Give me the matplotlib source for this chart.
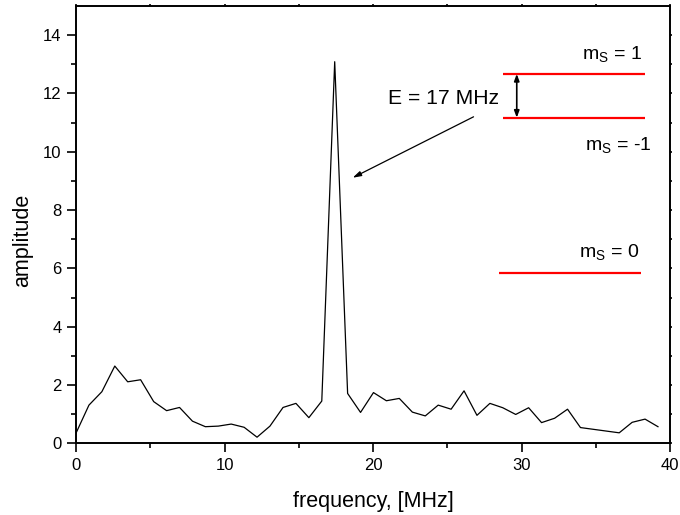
import matplotlib
matplotlib.use("Agg")
import matplotlib.pyplot as plt

plt.rcParams['font.family'] = ['Liberation Sans', 'DejaVu Sans']
plt.rcParams['mathtext.fontset'] = 'custom'
plt.rcParams['mathtext.rm'] = 'Liberation Sans'

# spectrum, frequency in MHz
freq = [0.00, 0.87, 1.74, 2.61, 3.48, 4.35, 5.23, 6.10, 6.97, 7.84,
        8.71, 9.58, 10.45, 11.32, 12.19, 13.06, 13.94, 14.81, 15.68, 16.55,
        17.42, 18.29, 19.16, 20.03, 20.90, 21.77, 22.65, 23.52, 24.39, 25.26,
        26.13, 27.00, 27.87, 28.74, 29.61, 30.48, 31.35, 32.23, 33.10, 33.97,
        34.84, 35.71, 36.58, 37.45, 38.32, 39.19]
amp = [0.35, 1.31, 1.77, 2.65, 2.11, 2.18, 1.43, 1.12, 1.23, 0.76,
       0.57, 0.59, 0.66, 0.55, 0.21, 0.59, 1.23, 1.37, 0.88, 1.45,
       13.09, 1.71, 1.06, 1.74, 1.46, 1.54, 1.07, 0.94, 1.31, 1.17,
       1.80, 0.96, 1.37, 1.22, 0.99, 1.22, 0.71, 0.86, 1.17, 0.54,
       0.48, 0.42, 0.36, 0.72, 0.83, 0.57]

# energy level sketch: (x start, x end, level)
levels = [(28.75, 38.3, 12.67), (28.75, 38.3, 11.17), (28.5, 38.05, 5.83)]
level_labels = ['m$_\\mathregular{S}$ = 1', 'm$_\\mathregular{S}$ = -1', 'm$_\\mathregular{S}$ = 0']
label_pos = [(38.1, 13.17), (38.76, 10.03), (37.93, 6.35)]

fig = plt.figure(figsize=(6.8, 5.15), dpi=100)
ax = fig.add_axes([0.1118, 0.1392, 0.8735, 0.8491])

ax.plot(freq, amp, color='black', lw=0.9)

for (x0, x1, y), txt, (tx, ty) in zip(levels, level_labels, label_pos):
    ax.plot([x0, x1], [y, y], color='#ff0000', lw=1.6, solid_capstyle='butt')
    ax.text(tx, ty, txt, ha='right', va='baseline', fontsize=14)

# splitting between the upper two levels
ax.annotate('', xy=(29.68, levels[1][2]), xytext=(29.68, levels[0][2]),
            arrowprops=dict(arrowstyle='<|-|>,head_length=0.4,head_width=0.15',
                            color='black', lw=1.2, shrinkA=0, shrinkB=0))

ax.text(21.0, 11.64, 'E = 17 MHz', ha='left', va='baseline', fontsize=15.2)
ax.annotate('', xy=(18.63, 9.11), xytext=(26.77, 11.2),
            arrowprops=dict(arrowstyle='-|>,head_length=0.5,head_width=0.15',
                            color='black', lw=0.9, shrinkA=0, shrinkB=0))

ax.set_xlim(0, 40)
ax.set_ylim(0, 15)
ax.set_xticks([0, 10, 20, 30, 40])
ax.set_xticks([5, 15, 25, 35], minor=True)
ax.set_yticks([0, 2, 4, 6, 8, 10, 12, 14])
ax.set_yticks([1, 3, 5, 7, 9, 11, 13], minor=True)

ax.tick_params(which='both', direction='out', width=1.2, labelsize=12,
               top=True, right=True, labeltop=False, labelright=False)
ax.tick_params(which='major', length=6.5, pad=4)
ax.tick_params(which='minor', length=3.5)
# short marks on the top and right frame
for t in ax.xaxis.get_major_ticks() + ax.xaxis.get_minor_ticks():
    t.tick2line.set_markersize(1.5)
for t in ax.yaxis.get_major_ticks() + ax.yaxis.get_minor_ticks():
    t.tick2line.set_markersize(1.5)

for spine in ax.spines.values():
    spine.set_linewidth(1.4)

ax.set_xlabel('frequency, [MHz]', fontsize=15.5, labelpad=13)
ax.set_ylabel('amplitude', fontsize=15.5)
ax.yaxis.set_label_coords(-0.072, 0.465)

fig.savefig('out.png', dpi=100)
